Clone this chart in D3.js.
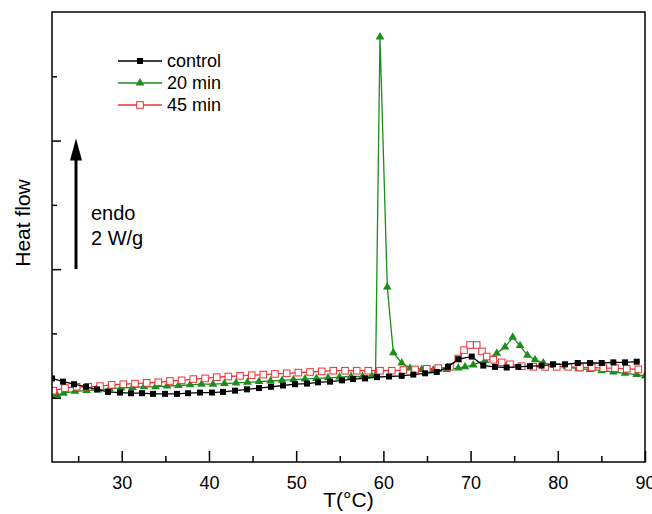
<!DOCTYPE html>
<html>
<head>
<meta charset="utf-8">
<script src="https://cdn.jsdelivr.net/npm/d3@7"></script>
<style>
  body { margin: 0; background: #fff; }
  svg text { font-family: "Liberation Sans", Arial, sans-serif; fill: #000; }
</style>
</head>
<body>
<div id="chart"></div>
<script>
// T (°C) and heat flow (W/g, arbitrary offset)
var controlT = [22.0,23.26,24.52,25.9,27.16,28.42,29.8,31.06,32.32,33.58,34.96,36.33,37.6,38.97,40.35,41.61,42.99,44.36,45.74,47.11,48.49,49.87,51.24,52.5,53.88,55.26,56.52,57.89,59.27,60.65,62.1,63.43,64.78,66.12,67.41,68.59,70.13,71.46,72.8,74.14,75.47,76.8,78.14,79.45,80.83,82.29,83.7,85.04,86.37,87.71,89.05];
var controlV = [1.30,1.25,1.21,1.17,1.13,1.09,1.08,1.07,1.07,1.06,1.06,1.06,1.07,1.08,1.08,1.09,1.11,1.13,1.15,1.17,1.19,1.21,1.22,1.24,1.25,1.27,1.29,1.30,1.32,1.33,1.34,1.36,1.38,1.40,1.48,1.60,1.64,1.50,1.48,1.47,1.48,1.49,1.50,1.52,1.52,1.54,1.54,1.54,1.55,1.55,1.56];

var min20T = [22.0,22.57,23.32,24.64,25.96,27.28,28.59,29.91,31.23,32.55,33.87,35.19,36.51,37.83,39.14,40.46,41.78,43.1,44.42,45.74,47.06,48.38,49.69,51.01,52.33,53.65,54.97,56.29,57.61,58.66,59.1,59.61,60.45,61.14,62.1,63.05,64.4,65.73,67.26,68.59,69.36,70.31,71.66,73.0,73.95,74.83,75.67,76.51,77.39,78.34,79.68,81.03,82.36,83.7,85.04,86.37,87.71,89.05,90.0];
var min20V = [1.02,1.04,1.07,1.10,1.11,1.12,1.14,1.15,1.16,1.17,1.17,1.18,1.19,1.20,1.21,1.21,1.22,1.23,1.24,1.25,1.26,1.27,1.28,1.29,1.30,1.31,1.32,1.33,1.33,1.34,1.35,6.61,2.72,1.70,1.54,1.46,1.44,1.43,1.44,1.46,1.48,1.51,1.58,1.69,1.79,1.94,1.81,1.66,1.59,1.54,1.50,1.48,1.45,1.44,1.42,1.40,1.38,1.36,1.34];

var min45T = [22.15,23.49,24.83,26.16,27.5,28.85,30.18,31.52,32.86,34.19,35.53,36.87,38.2,39.55,40.89,42.22,43.56,44.9,46.23,47.57,48.91,50.25,51.59,52.93,54.26,55.6,56.94,58.27,59.61,60.96,62.29,63.63,64.97,66.3,67.64,68.59,69.25,69.94,70.7,71.31,71.85,72.61,73.57,74.52,75.86,77.2,78.54,79.88,81.21,82.55,83.89,85.22,86.56,87.91,89.24];
var min45V = [1.11,1.15,1.17,1.17,1.18,1.20,1.21,1.22,1.23,1.24,1.26,1.27,1.29,1.30,1.32,1.33,1.34,1.35,1.36,1.37,1.38,1.39,1.40,1.41,1.42,1.42,1.42,1.42,1.42,1.42,1.43,1.44,1.45,1.46,1.48,1.61,1.74,1.82,1.82,1.72,1.64,1.59,1.55,1.52,1.49,1.48,1.48,1.48,1.48,1.47,1.47,1.46,1.46,1.45,1.44];

var seriesNames = ["control", "20 min", "45 min"];
var xMajorTicks = [30, 40, 50, 60, 70, 80, 90];
var xMinorTicks = [25, 35, 45, 55, 65, 75, 85];
var yMajorTicks = [1, 3, 5];
var yMinorTicks = [2, 4, 6];

var width = 652, height = 514;
var margin = {top: 12, right: 7, bottom: 52, left: 52};
var plotW = width - margin.left - margin.right,
    plotH = height - margin.top - margin.bottom;

var svg = d3.select("#chart").append("svg")
    .attr("width", width)
    .attr("height", height);

var g = svg.append("g")
    .attr("transform", "translate(" + margin.left + "," + margin.top + ")");

var xScale = d3.scaleLinear().domain([22, 90]).range([0, plotW]);
var yScale = d3.scaleLinear().domain([0, 7]).range([plotH, 0]);

g.append("clipPath").attr("id", "plotclip")
  .append("rect").attr("width", plotW).attr("height", plotH);

function pts(ts, vs) {
    return ts.map(function (t, i) { return {t: t, v: vs[i]}; });
}

var series = [
    {name: seriesNames[1], data: pts(min20T, min20V), color: "#1c8c1c", marker: "tri"},
    {name: seriesNames[2], data: pts(min45T, min45V), color: "#ee3035", marker: "open"},
    {name: seriesNames[0], data: pts(controlT, controlV), color: "#000", marker: "sq"}
];

var line = d3.line()
    .x(function (d) { return xScale(d.t); })
    .y(function (d) { return yScale(d.v); });

function drawMarker(sel, s) {
    if (s.marker === "tri") {
        sel.append("path")
            .attr("d", d3.symbol().type(d3.symbolTriangle).size(32))
            .attr("fill", s.color);
    } else if (s.marker === "sq") {
        sel.append("rect")
            .attr("x", -3).attr("y", -3).attr("width", 6).attr("height", 6)
            .attr("fill", s.color);
    } else {
        sel.append("rect")
            .attr("x", -3.3).attr("y", -3.3).attr("width", 6.6).attr("height", 6.6)
            .attr("fill", "#fff").attr("stroke", s.color).attr("stroke-width", 1);
    }
}

var plot = g.append("g").attr("clip-path", "url(#plotclip)");

series.forEach(function (s) {
    plot.append("path")
        .datum(s.data)
        .attr("fill", "none")
        .attr("stroke", s.color)
        .attr("stroke-width", 1.3)
        .attr("d", line);

    plot.selectAll(null)
        .data(s.data)
        .enter().append("g")
        .attr("transform", function (d) { return "translate(" + xScale(d.t) + "," + yScale(d.v) + ")"; })
        .each(function () { drawMarker(d3.select(this), s); });
});

// frame
g.append("rect")
    .attr("width", plotW).attr("height", plotH)
    .attr("fill", "none").attr("stroke", "#000").attr("stroke-width", 1.5);

// x axis, ticks pointing inward
var xAxis = d3.axisBottom(xScale).tickValues(xMajorTicks).tickSize(-11).tickPadding(14)
    .tickFormat(d3.format("d"));
var xa = g.append("g").attr("transform", "translate(0," + plotH + ")").call(xAxis);
var xAxisMinor = d3.axisBottom(xScale).tickValues(xMinorTicks).tickSize(-6).tickFormat("");
var xm = g.append("g").attr("transform", "translate(0," + plotH + ")").call(xAxisMinor);

var ya = g.append("g").call(d3.axisLeft(yScale).tickValues(yMajorTicks).tickSize(-9).tickFormat(""));
var ym = g.append("g").call(d3.axisLeft(yScale).tickValues(yMinorTicks).tickSize(-5).tickFormat(""));

[xa, xm, ya, ym].forEach(function (a) {
    a.select(".domain").remove();
    a.selectAll(".tick line").attr("stroke", "#000").attr("stroke-width", 1.5);
});
xa.selectAll(".tick text").style("font-size", "18px").attr("fill", "#000");

// axis titles
svg.append("text")
    .attr("x", margin.left + xScale(56))
    .attr("y", 507)
    .attr("text-anchor", "middle")
    .style("font-size", "21px")
    .text("T(°C)");

svg.append("text")
    .attr("transform", "translate(30," + 223 + ") rotate(-90)")
    .attr("text-anchor", "middle")
    .style("font-size", "21px")
    .text("Heat flow");

// endo arrow (2 W/g)
var arrowX = 24;
g.append("line")
    .attr("x1", arrowX).attr("x2", arrowX)
    .attr("y1", yScale(3)).attr("y2", yScale(5) + 18)
    .attr("stroke", "#000").attr("stroke-width", 3);
g.append("path")
    .attr("d", "M" + (arrowX - 6) + "," + (yScale(5) + 20) + "L" + arrowX + "," + (yScale(5) - 2) +
        "L" + (arrowX + 6) + "," + (yScale(5) + 20) + "Z")
    .attr("fill", "#000");

g.append("text").attr("x", 39).attr("y", 208).style("font-size", "20px").text("endo");
g.append("text").attr("x", 39).attr("y", 233).style("font-size", "20px").text("2 W/g");

// legend
var legendOrder = [series[2], series[0], series[1]];
var legend = svg.append("g").attr("transform", "translate(118,61)");
legendOrder.forEach(function (s, i) {
    var row = legend.append("g").attr("transform", "translate(0," + (i * 22) + ")");
    row.append("line").attr("x1", 0).attr("x2", 44)
        .attr("stroke", s.color).attr("stroke-width", 1.3);
    drawMarker(row.append("g").attr("transform", "translate(22,0)"), s);
    row.append("text").attr("x", 49).attr("y", 6).style("font-size", "18px").text(s.name);
});
</script>
</body>
</html>
